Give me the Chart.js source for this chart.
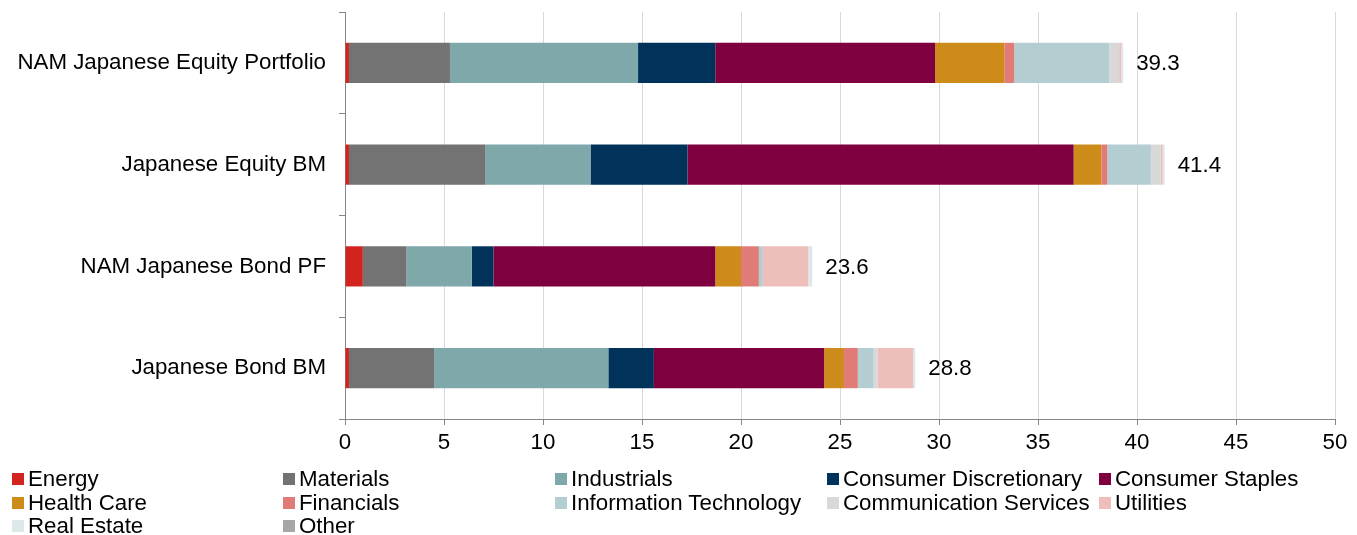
<!DOCTYPE html>
<html>
<head>
<meta charset="utf-8">
<title>Sector allocation</title>
<script src="https://cdn.jsdelivr.net/npm/chart.js@4/dist/chart.umd.min.js"></script>
<style>
  body { margin: 0; background: #fff; font-family: "Liberation Sans", Arial, sans-serif; }
  #wrap { position: relative; width: 1357px; height: 535px; }
  #chartBox { position: absolute; left: 0; top: 0; width: 1357px; height: 460px; }
  #legend { position: absolute; left: 0; top: 0; width: 1357px; height: 535px; pointer-events: none; }
  .item { position: absolute; font-size: 22.3px; color: #000; white-space: nowrap; line-height: 24px; }
  .item span.box { display: inline-block; width: 12px; height: 12px; margin-right: 4px; vertical-align: 1px; }
</style>
</head>
<body>
<div id="wrap">
  <div id="chartBox"><canvas id="sectorChart"></canvas></div>
  <div id="legend"></div>
</div>
<script>
// Portfolios / benchmarks shown on the y axis
const categories = ['NAM Japanese Equity Portfolio', 'Japanese Equity BM', 'NAM Japanese Bond PF', 'Japanese Bond BM'];

// Sector weights (%) per portfolio, same order as categories
const energy       = [0.2, 0.2, 0.9, 0.2];
const materials    = [5.1, 6.9, 2.2, 4.3];
const industrials  = [9.5, 5.3, 3.3, 8.8];
const consDisc     = [3.9, 4.9, 1.1, 2.3];
const consStaples  = [11.1, 19.5, 11.2, 8.6];
const healthCare   = [3.5, 1.4, 1.3, 1.0];
const financials   = [0.5, 0.3, 0.9, 0.7];
const infoTech     = [4.8, 2.2, 0.2, 0.8];
const commServices = [0.5, 0.5, 0.0, 0.2];
const utilities    = [0.1, 0.1, 2.3, 1.8];
const realEstate   = [0.1, 0.1, 0.2, 0.1];
const other        = [0, 0, 0, 0];

const xTicks = [0, 5, 10, 15, 20, 25, 30, 35, 40, 45, 50];

const sectors = [
    { label: 'Energy', data: energy, color: '#d2231f' },
    { label: 'Materials', data: materials, color: '#737373' },
    { label: 'Industrials', data: industrials, color: '#7fa8ab' },
    { label: 'Consumer Discretionary', data: consDisc, color: '#00325a' },
    { label: 'Consumer Staples', data: consStaples, color: '#7f003e' },
    { label: 'Health Care', data: healthCare, color: '#cd8b19' },
    { label: 'Financials', data: financials, color: '#e07b77' },
    { label: 'Information Technology', data: infoTech, color: '#b4cdd0' },
    { label: 'Communication Services', data: commServices, color: '#d8d8d8' },
    { label: 'Utilities', data: utilities, color: '#eebfba' },
    { label: 'Real Estate', data: realEstate, color: '#dce8e9' },
    { label: 'Other', data: other, color: '#a6a6a6' }
];

const FONT = '"Liberation Sans", Arial, sans-serif';
const FONT_SIZE = 22.3;

// Totals written to the right of each stacked bar
const totalLabels = {
    id: 'totalLabels',
    afterDatasetsDraw(chart) {
        const ctx = chart.ctx;
        const xScale = chart.scales.x;
        const yScale = chart.scales.y;
        ctx.save();
        ctx.font = FONT_SIZE + 'px ' + FONT;
        ctx.fillStyle = '#000';
        ctx.textAlign = 'left';
        ctx.textBaseline = 'middle';
        categories.forEach(function(cat, i) {
            let total = 0;
            sectors.forEach(function(s) { total += s.data[i]; });
            const x = xScale.getPixelForValue(total) + 13;
            const y = yScale.getPixelForValue(i);
            ctx.fillText(total.toFixed(1), x, y + 1);
        });
        ctx.restore();
    }
};

const chart = new Chart(document.getElementById('sectorChart'), {
    type: 'bar',
    data: {
        labels: categories,
        datasets: sectors.map(function(s) {
            return {
                label: s.label,
                data: s.data,
                backgroundColor: s.color,
                borderWidth: 0,
                categoryPercentage: 1,
                barPercentage: 0.395
            };
        })
    },
    options: {
        indexAxis: 'y',
        responsive: true,
        maintainAspectRatio: false,
        animation: false,
        layout: { padding: { top: 12, right: 22, left: 0, bottom: 0 } },
        plugins: {
            legend: { display: false },
            tooltip: { enabled: false }
        },
        scales: {
            x: {
                stacked: true,
                min: 0,
                max: 50,
                afterBuildTicks: function(scale) {
                    scale.ticks = xTicks.map(function(v) { return { value: v }; });
                },
                afterFit: function(scale) { scale.height = 41; },
                grid: { color: '#d9d9d9', lineWidth: 1, tickColor: '#868686', tickLength: 6 },
                border: { color: '#868686', width: 1 },
                ticks: { color: '#000', font: { family: FONT, size: FONT_SIZE }, padding: 4, maxRotation: 0 }
            },
            y: {
                stacked: true,
                afterFit: function(scale) {
                    // fixed label column, no extra top/bottom padding from labels
                    scale.width = 345;
                    scale.paddingTop = 0;
                    scale.paddingBottom = 0;
                },
                grid: { drawOnChartArea: false, color: '#868686', tickLength: 6, offset: true },
                border: { color: '#868686', width: 1 },
                ticks: { color: '#000', font: { family: FONT, size: FONT_SIZE }, padding: 13 }
            }
        }
    },
    plugins: [totalLabels]
});

// Legend laid out in five columns under the plot
const legendCols = [12, 283, 555, 827, 1099];
const legendRows = [467, 491, 514];
const legendEl = document.getElementById('legend');
sectors.forEach(function(s, i) {
    const item = document.createElement('div');
    item.className = 'item';
    item.style.left = legendCols[i % 5] + 'px';
    item.style.top = legendRows[Math.floor(i / 5)] + 'px';
    item.innerHTML = '<span class="box" style="background:' + s.color + '"></span>' + s.label;
    legendEl.appendChild(item);
});
</script>
</body>
</html>
